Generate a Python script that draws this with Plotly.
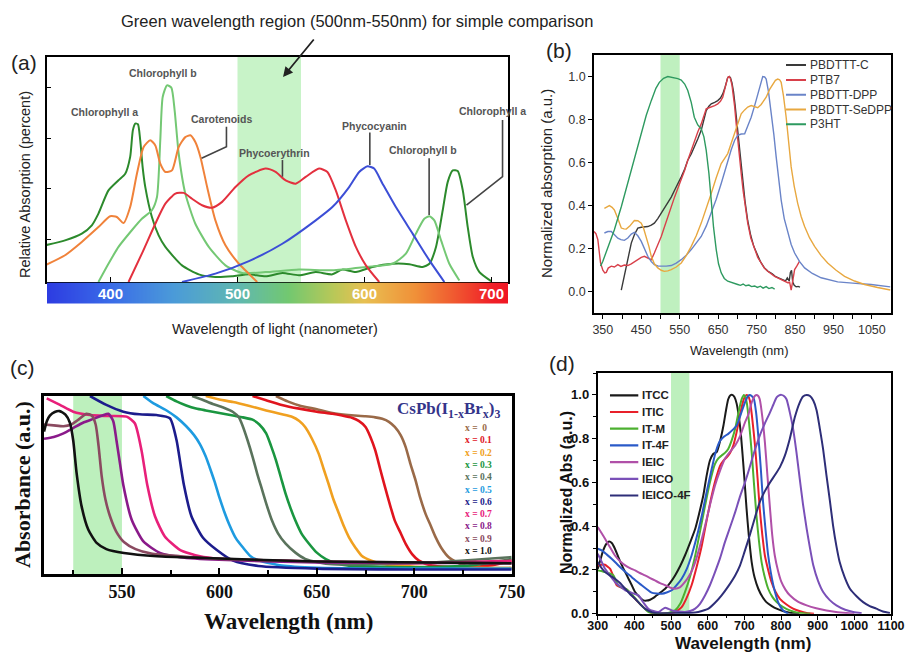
import plotly.graph_objects as go

W, H = 907, 652
SANS = "Liberation Sans, Arial, sans-serif"
SERIF = "Liberation Serif, Times New Roman, serif"

# ======================= DATA =======================
TITLE = "Green wavelength region (500nm-550nm) for simple comparison"
GREEN_BAND = (500, 550)
GREEN_BAND_C = (525, 550)

# ---- (a) pigments: (wavelength nm, relative absorption %) ----
A_CHL_A = [(348.4,16.3),(364.2,18.5),(377.4,21.5),(385.3,25.2),(390.5,30.4),(398.4,40.7),(406.3,45.2),
           (411.6,48.1),(415.5,55.6),(417.6,67.4),(419.5,70.4),(421.6,70.1),(423.4,63),(425.3,51.1),
           (427.4,42.2),(432.6,28.9),(437.9,20.7),(443.2,15.6),(456.3,7.4),(469.5,3.4),(482.6,2.2),
           (495.8,2.5),(509,3.4),(522.1,2.5),(535.3,4),(548.4,3),(561.6,4.4),(574.7,3.4),(582.6,5.5),
           (593.2,4.4),(606.3,6.7),(622.1,8.1),(635.3,7.9),(645.8,6.7),(651.1,8.1),(656.3,15.6),
           (661.6,31.9),(665.5,44.4),(669.5,49.6),(673.4,49.3),(677.4,40.7),(681.3,24.4),(685.3,11.1),
           (690.5,4.4),(699.7,0.4)]
A_CHL_B = [(390.5,0),(398.4,8.1),(406.3,15.6),(416.8,23),(424.7,28.1),(432.6,31.9),(436.6,37.8),
           (439.2,63),(441.1,82.2),(444.5,87.4),(447.9,86.4),(450.5,76.3),(453.7,57),(458.9,39.3),
           (466.8,25.9),(477.4,15.6),(490.5,7.4),(503.7,4),(522.1,4.4),(548.4,5.5),(574.7,5.2),
           (601.1,6.7),(622.1,8.1),(632.6,12.6),(640.5,21.5),(647.1,28.1),(651.1,29.2),(655,27.4),
           (660.3,18.5),(666.8,8.1),(674.7,0.7)]
A_CAROT = [(348.4,7.4),(364.2,11.9),(377.4,17.8),(390.5,24.4),(399.7,29.2),(405,28.9),(410.3,26.2),
           (415.5,33.3),(420.8,48.1),(426.1,60),(431.3,63),(435.3,60.7),(439.2,52.6),(443.2,48.9),
           (448.4,49.6),(453.7,60),(458.9,64.4),(462.9,65.2),(466.8,62.2),(470.8,55.6),(476.1,42.2),
           (482.6,27.4),(490.5,16.3),(501.1,8.1),(508.9,3.7),(515.5,0)]
A_PHYCOERY = [(414.2,0),(424.7,12.6),(435.3,25.9),(443.2,34.8),(451.1,39.3),(457.6,39.6),(464.2,37),
              (472.1,34.1),(480,33),(487.9,35.6),(498.4,42.2),(508.9,47.4),(522.1,50.4),(530,48.9),
              (537.9,45.2),(545.8,43.7),(553.7,46.7),(564.2,50.4),(570.8,48.9),(577.4,40.7),(585.3,27.4),
              (593.2,15.6),(601.1,7.4),(611.6,0)]
A_PHYCOCY = [(456.3,0),(482.6,3.7),(509,9.3),(535.3,17),(561.6,27.4),(574.7,33.3),(587.9,42.2),
             (595.8,48.9),(602.4,51.4),(607.6,50.4),(614.2,43.7),(624.7,33.3),(637.9,21.5),(651.1,9.6),
             (662.9,0)]
A_SERIES = [A_CHL_A, A_CHL_B, A_CAROT, A_PHYCOERY, A_PHYCOCY]
A_COLORS = ["#2c8a2c", "#74c874", "#f0823a", "#e3303e", "#3c4ed6"]
A_LABELS = ["Chlorophyll a", "Chlorophyll b", "Carotenoids", "Phycoerythrin", "Phycocyanin",
            "Chlorophyll b", "Chlorophyll a"]
A_LABEL_POS = [(395.5,75.6),(441.2,92.9),(487.6,72.4),(529.4,57.3),(608.1,69.3),(645.9,58.7),(701,76)]
A_LEADERS = [[(491.3,69),(491.3,60.1),(471.7,55)], [(535.4,54.2),(535.4,46.8)],
             [(604.2,66.4),(604.2,52)], [(650.9,55),(650.9,29.8)],
             [(708.7,72),(708.7,46.8),(680.3,34.2)]]
A_TICKS = [400, 500, 600, 700]
A_YTICKS = [19, 41.5, 64, 86.5]
SPECTRUM_NM = [340, 400, 450, 500, 540, 575, 600, 640, 670, 700, 720]
SPECTRUM_COLORS = ["#2a32e0", "#3a6ce8", "#4b9bd8", "#60b8b0", "#72c870", "#b8c858",
                   "#e8c052", "#f09038", "#f05a30", "#f02028", "#f01020"]

# ---- (b) polymers: (wavelength nm, normalized absorption) ----
B_PBDTTTC = [(398,0.008),(404,0.06),(411,0.119),(418,0.175),(424,0.226),(432,0.265),(441,0.296),(450,0.3),
             (458,0.302),(467,0.303),(476,0.31),(484,0.319),(493,0.34),(502,0.365),(510,0.385),(519,0.411),
             (528,0.44),(537,0.473),(545,0.5),(554,0.534),(563,0.57),(571,0.611),(580,0.64),(589,0.673),
             (597,0.71),(606,0.75),(613,0.8),(619,0.842),(626,0.862),(632,0.873),(641,0.88),(649,0.888),
             (656,0.9),(662,0.919),(668,0.95),(675,0.996),(679,1.0),(682,0.995),(686,0.97),(690,0.93),
             (694,0.87),(698,0.8),(703,0.7),(708,0.6),(714,0.5),(720,0.42),(727,0.33),(735,0.26),(743,0.21),
             (750,0.18),(760,0.14),(770,0.112),(780,0.095),(790,0.085),(800,0.07),(810,0.062),(818,0.057),
             (825,0.05),(830,0.065),(835,0.05),(838,0.09),(841,0.1),(844,0.045),(848,0.03),(853,0.023),
             (858,0.025),(863,0.022)]
B_PTB7 = [(327,0.28),(332,0.27),(337,0.242),(341,0.18),(344,0.134),(350,0.1),(355,0.088),(359,0.09),
          (364,0.11),(372,0.119),(380,0.115),(389,0.126),(397,0.118),(406,0.124),(415,0.122),(424,0.13),
          (432,0.14),(441,0.149),(450,0.16),(458,0.165),(467,0.158),(476,0.149),(484,0.18),(493,0.215),
          (502,0.257),(510,0.3),(519,0.35),(528,0.395),(537,0.442),(545,0.48),(554,0.519),(563,0.565),
          (571,0.611),(580,0.658),(589,0.704),(597,0.742),(606,0.78),(613,0.82),(619,0.85),(626,0.855),
          (632,0.858),(641,0.865),(649,0.873),(656,0.885),(662,0.904),(668,0.95),(675,0.996),(679,1.0),
          (682,0.99),(686,0.96),(690,0.91),(693,0.86),(697,0.78),(701,0.7),(706,0.62),(710,0.55),
          (715,0.47),(720,0.4),(727,0.319),(735,0.25),(745,0.196),(753,0.16),(762,0.134),(770,0.11),
          (779,0.095),(788,0.082),(797,0.072),(805,0.065),(814,0.057),(822,0.05),(831,0.042),(836,0.045),
          (840,0.008),(844,0.05),(849,0.103),(855,0.12),(862,0.142)]
B_DPP = [(354,0.273),(363,0.28),(372,0.28),(380,0.265),(389,0.249),(397,0.242),(406,0.239),(415,0.25),
         (424,0.268),(432,0.276),(441,0.26),(450,0.234),(458,0.2),(467,0.165),(476,0.14),(484,0.126),
         (493,0.12),(502,0.119),(515,0.119),(528,0.122),(541,0.133),(554,0.149),(567,0.17),(580,0.196),
         (593,0.225),(606,0.257),(619,0.305),(632,0.365),(645,0.43),(658,0.503),(667,0.56),(675,0.611),
         (684,0.66),(693,0.704),(701,0.727),(710,0.733),(719,0.734),(727,0.77),(736,0.811),(745,0.865),
         (753,0.919),(760,0.965),(766,1.0),(771,0.998),(775,0.988),(781,0.93),(788,0.842),(795,0.73),
         (801,0.627),(808,0.52),(814,0.426),(822,0.34),(831,0.273),(840,0.22),(849,0.18),(862,0.14),
         (875,0.111),(895,0.085),(918,0.065),(940,0.054),(961,0.046),(1000,0.04),(1048,0.034),(1098,0.023)]
B_SEDPP = [(354,0.388),(360,0.395),(367,0.4),(374,0.392),(380,0.38),(389,0.34),(398,0.296),(405,0.292),
           (411,0.291),(420,0.305),(432,0.331),(441,0.33),(450,0.319),(456,0.295),(463,0.257),(470,0.21),
           (476,0.165),(484,0.13),(493,0.111),(502,0.1),(510,0.095),(519,0.097),(528,0.103),(541,0.115),
           (554,0.134),(567,0.168),(580,0.211),(593,0.26),(606,0.319),(619,0.385),(632,0.457),(645,0.53),
           (658,0.596),(667,0.62),(675,0.642),(684,0.69),(693,0.734),(701,0.78),(710,0.827),(719,0.845),
           (727,0.858),(736,0.865),(745,0.86),(753,0.855),(762,0.87),(775,0.904),(784,0.94),(792,0.965),
           (799,0.982),(805,0.988),(810,0.985),(814,0.973),(820,0.91),(827,0.811),(833,0.7),(840,0.58),
           (848,0.49),(857,0.411),(866,0.35),(875,0.303),(888,0.25),(901,0.211),(918,0.168),(935,0.134),
           (957,0.1),(979,0.072),(1005,0.05),(1031,0.034),(1065,0.02),(1098,0.008)]
B_P3HT = [(344,0.119),(350,0.142),(365,0.215),(380,0.288),(398,0.395),(415,0.503),(432,0.62),(450,0.734),
          (463,0.82),(476,0.888),(488,0.945),(497,0.973),(508,0.992),(519,1.0),(528,0.997),(536,0.993),
          (545,0.99),(554,0.984),(563,0.965),(571,0.935),(580,0.88),(588,0.811),(597,0.775),(606,0.757),
          (613,0.72),(619,0.657),(626,0.55),(632,0.426),(638,0.3),(645,0.196),(651,0.13),(658,0.088),
          (666,0.062),(675,0.049),(688,0.04),(701,0.034),(708,0.03),(715,0.036),(722,0.028),(730,0.031),
          (737,0.024),(745,0.027),(752,0.02),(760,0.026),(767,0.017),(775,0.024),(782,0.015),(790,0.02),
          (797,0.012)]
B_SERIES = [B_PBDTTTC, B_PTB7, B_DPP, B_SEDPP, B_P3HT]
B_NAMES = ["PBDTTT-C", "PTB7", "PBDTT-DPP", "PBDTT-SeDPP", "P3HT"]
B_COLORS = ["#3a3a3a", "#d8404a", "#6a84c8", "#e8a840", "#2e9a60"]
B_XTICKS = [350, 450, 550, 650, 750, 850, 950, 1050]

# ---- (c) CsPb(I1-xBrx)3: (wavelength nm, absorbance a.u.) ----
C_X00 = [(629,1.0),(635,0.97),(641,0.947),(650,0.925),(658,0.904),(666,0.893),(675,0.886),(680,0.88),
         (683.6,0.872),(687,0.855),(690,0.826),(693,0.78),(695.6,0.713),(698,0.62),(700.7,0.525),
         (703,0.43),(705.8,0.338),(708.5,0.27),(711,0.206),(714,0.145),(717.7,0.094),(722,0.065),
         (726,0.047),(734.8,0.034),(750,0.034)]
C_X01 = [(617,1.0),(624,0.976),(632,0.95),(641,0.929),(650,0.912),(658,0.9),(663,0.89),(668,0.878),
         (671.5,0.86),(675,0.826),(677.5,0.77),(680,0.694),(682.5,0.59),(685,0.488),(687.5,0.39),
         (690,0.3),(693,0.23),(695.6,0.169),(699,0.11),(702.4,0.075),(709,0.047),(726,0.038),(740,0.05),
         (750,0.075)]
C_X02 = [(593,1.0),(600,0.98),(607,0.966),(615,0.945),(624,0.919),(631,0.9),(637.5,0.882),(641,0.86),
         (644,0.826),(647.5,0.76),(651,0.675),(653.5,0.59),(656,0.507),(658.5,0.42),(661.4,0.338),
         (664,0.265),(666.5,0.206),(670,0.145),(673,0.103),(678,0.075),(683.6,0.056),(700.7,0.041),
         (750,0.034)]
C_X03 = [(572.7,1.0),(578,0.97),(583,0.947),(588,0.93),(593,0.919),(600,0.905),(607,0.89),(612,0.88),
         (617,0.867),(620.5,0.84),(624,0.79),(626.5,0.72),(629,0.64),(631.5,0.545),(634,0.45),
         (636.5,0.37),(639,0.3),(642,0.23),(646,0.17),(650,0.12),(654.6,0.084),(660,0.06),(666.5,0.047),
         (700,0.038),(730,0.05),(750,0.084)]
C_X04 = [(586,1.0),(591,0.98),(596.6,0.955),(602,0.935),(607,0.91),(610,0.88),(612,0.83),(614.5,0.75),
         (617,0.66),(619.5,0.56),(622,0.47),(624.5,0.38),(627,0.3),(630,0.23),(634,0.17),(639,0.12),
         (644,0.085),(651,0.065),(658,0.055),(700,0.06),(750,0.095)]
C_X05 = [(561,1.0),(566,0.96),(572.7,0.92),(578,0.88),(583,0.83),(587,0.78),(590,0.73),(593,0.66),
         (595,0.6),(597.5,0.52),(600,0.43),(602.5,0.35),(605,0.28),(608.5,0.2),(612,0.15),(616,0.1),
         (620.5,0.075),(632,0.047),(650,0.035),(700,0.03),(750,0.03)]
C_X06 = [(533.6,1.0),(542,0.95),(550.7,0.912),(559,0.897),(567.7,0.893),(574.6,0.875),(578,0.753),
         (580,0.62),(581.8,0.5),(585.7,0.323),(591.7,0.202),(598.5,0.136),(607,0.075),(620,0.045),
         (650,0.03),(700,0.025),(750,0.025)]
C_X07 = [(511.4,0.987),(518.2,0.95),(525,0.912),(533.6,0.893),(542,0.888),(552.4,0.884),(556.6,0.847),
         (560,0.697),(563,0.5),(567,0.323),(572,0.211),(579.7,0.136),(590,0.099),(600,0.085),(650,0.07),
         (700,0.06),(750,0.075)]
C_X08 = [(510,0.76),(515,0.77),(520,0.79),(525,0.82),(530,0.85),(535,0.87),(540,0.89),(543,0.9),
         (545.5,0.86),(547.2,0.75),(549,0.62),(550.7,0.5),(555,0.305),(561,0.183),(569.5,0.118),
         (580,0.095),(600,0.08),(650,0.065),(750,0.06)]
C_X09 = [(510,0.84),(515,0.835),(520,0.83),(524,0.84),(528,0.87),(531.8,0.9),(534.5,0.89),(536.5,0.84),
         (538,0.72),(539.6,0.55),(541.5,0.42),(544,0.32),(547,0.24),(551,0.18),(557,0.14),(565,0.115),
         (580,0.1),(600,0.085),(650,0.07),(750,0.06)]
C_X10 = [(510,0.80),(511.5,0.86),(513,0.89),(515.5,0.91),(518,0.915),(521,0.895),(523.3,0.85),(525,0.75),
         (526.7,0.57),(529.3,0.38),(532.7,0.25),(537,0.175),(542,0.14),(551,0.118),(568,0.10),(593,0.09),
         (650,0.07),(750,0.06)]
C_SERIES = [C_X00, C_X01, C_X02, C_X03, C_X04, C_X05, C_X06, C_X07, C_X08, C_X09, C_X10]
C_LABELS = ["x =  0", "x = 0.1", "x = 0.2", "x = 0.3", "x = 0.4", "x = 0.5",
            "x = 0.6", "x = 0.7", "x = 0.8", "x = 0.9", "x = 1.0"]
C_COLORS = ["#9a6a48", "#e0141e", "#f0a020", "#1a9640", "#5a735c", "#1e9be0",
            "#1c1c8c", "#e8207a", "#8a1a8a", "#8a4a60", "#111111"]
C_XTICKS = [550, 600, 650, 700, 750]

# ---- (d) NFAs: (wavelength nm, normalized abs) ----
D_ITCC = [(300,0.205),(308,0.25),(315,0.289),(323,0.318),(331,0.33),(339,0.322),(347,0.297),(356,0.26),
          (366,0.221),(375,0.19),(384,0.16),(393,0.13),(402,0.099),(413,0.078),(425,0.061),(434,0.06),
          (443,0.064),(452,0.072),(461,0.084),(472,0.098),(484,0.114),(497,0.14),(511,0.175),(525,0.218),
          (538,0.266),(552,0.325),(566,0.388),(577,0.46),(588,0.54),(597,0.63),(606,0.7),(615,0.73),
          (625,0.74),(634,0.79),(643,0.86),(650,0.93),(656,0.98),(662,0.998),(667,1.0),(673,0.99),
          (679,0.96),(685,0.9),(690,0.83),(695,0.73),(700,0.62),(706,0.48),(712,0.36),(720,0.236),
          (728,0.165),(738,0.114),(750,0.075),(760,0.053),(775,0.035),(788,0.023),(805,0.012),(824,0.004),
          (850,0.0)]
D_ITIC = [(300,0.22),(310,0.224),(320,0.224),(327,0.215),(334,0.205),(343,0.17),(352,0.13),(363,0.12),
          (375,0.114),(388,0.095),(402,0.068),(415,0.045),(429,0.023),(440,0.01),(452,0.0),(475,0.0),
          (502,0.003),(515,0.012),(529,0.03),(542,0.07),(556,0.13),(570,0.215),(584,0.312),(597,0.425),
          (611,0.54),(622,0.615),(634,0.677),(643,0.7),(652,0.715),(661,0.735),(670,0.769),(679,0.83),
          (688,0.906),(695,0.96),(701,0.99),(706,1.0),(710,0.995),(715,0.974),(721,0.9),(729,0.769),
          (736,0.62),(742,0.48),(749,0.36),(756,0.266),(765,0.2),(774,0.145),(785,0.1),(797,0.068),
          (815,0.042),(833,0.023),(850,0.012),(870,0.003),(890,0.0)]
D_ITM = [(300,0.198),(310,0.195),(320,0.19),(331,0.185),(343,0.175),(350,0.15),(356,0.13),(367,0.118),
         (379,0.111),(395,0.085),(411,0.053),(425,0.028),(438,0.008),(455,0.0),(475,0.0),(495,0.005),
         (511,0.015),(525,0.045),(538,0.099),(552,0.17),(566,0.266),(579,0.375),(593,0.495),(606,0.6),
         (620,0.685),(629,0.71),(638,0.723),(647,0.735),(656,0.753),(665,0.79),(675,0.845),(684,0.92),
         (693,0.982),(699,1.0),(703,0.99),(707,0.96),(713,0.87),(720,0.738),(726,0.6),(733,0.449),
         (740,0.33),(747,0.236),(756,0.165),(765,0.114),(776,0.078),(788,0.053),(806,0.03),(824,0.015),
         (842,0.006),(860,0.002),(880,0.0)]
D_IT4F = [(300,0.297),(311,0.289),(325,0.27),(338,0.251),(352,0.228),(366,0.205),(379,0.186),(393,0.167),
          (406,0.148),(420,0.13),(434,0.112),(447,0.096),(461,0.092),(475,0.091),(488,0.097),(502,0.107),
          (515,0.13),(529,0.16),(543,0.205),(556,0.266),(570,0.35),(584,0.449),(597,0.555),(611,0.662),
          (622,0.74),(634,0.791),(645,0.81),(656,0.822),(668,0.84),(679,0.86),(690,0.91),(702,0.967),
          (710,0.995),(715,1.0),(720,0.995),(726,0.982),(732,0.92),(738,0.814),(745,0.66),(751,0.51),
          (758,0.38),(765,0.266),(772,0.19),(779,0.13),(786,0.085),(792,0.053),(799,0.03),(806,0.015),
          (813,0.006),(820,0.0)]
D_IEIC = [(300,0.396),(310,0.37),(320,0.342),(333,0.305),(347,0.266),(361,0.24),(375,0.221),(388,0.208),
          (402,0.198),(415,0.186),(429,0.175),(443,0.163),(456,0.152),(470,0.14),(484,0.13),(497,0.12),
          (511,0.114),(524,0.12),(538,0.145),(552,0.18),(566,0.236),(579,0.31),(593,0.403),(606,0.495),
          (620,0.586),(634,0.655),(647,0.708),(661,0.74),(675,0.769),(688,0.81),(702,0.875),(711,0.91),
          (718,0.955),(724,0.982),(729,0.996),(733,1.0),(738,0.995),(742,0.98),(749,0.9),(756,0.784),
          (763,0.63),(770,0.48),(776,0.36),(783,0.266),(792,0.195),(801,0.145),(812,0.11),(824,0.084),
          (846,0.055),(870,0.038),(896,0.025),(924,0.015),(950,0.008),(979,0.003),(1000,0.0)]
D_IEICO = [(300,0.274),(310,0.24),(320,0.205),(333,0.175),(347,0.145),(361,0.125),(375,0.107),(393,0.095),
           (411,0.084),(425,0.05),(438,0.023),(452,0.012),(466,0.008),(475,0.018),(484,0.027),(493,0.022),
           (502,0.015),(520,0.01),(538,0.008),(552,0.012),(566,0.023),(579,0.045),(593,0.084),(606,0.13),
           (620,0.19),(634,0.255),(647,0.327),(661,0.395),(675,0.464),(688,0.535),(702,0.601),(713,0.66),
           (724,0.723),(733,0.77),(742,0.814),(756,0.87),(770,0.92),(779,0.955),(788,0.989),(795,0.998),
           (801,1.0),(808,0.995),(815,0.98),(824,0.92),(833,0.845),(842,0.74),(851,0.617),(860,0.5),
           (870,0.388),(879,0.3),(888,0.221),(901,0.15),(915,0.099),(933,0.062),(951,0.038),(975,0.018),
           (997,0.008),(1020,0.002)]
D_IEICO4F = [(300,0.236),(310,0.21),(320,0.19),(333,0.175),(347,0.16),(361,0.14),(375,0.114),(388,0.09),
             (402,0.068),(415,0.045),(429,0.023),(443,0.01),(456,0.003),(480,0.002),(520,0.003),(545,0.003),
             (566,0.005),(584,0.012),(602,0.023),(620,0.05),(638,0.084),(656,0.125),(675,0.175),(688,0.22),
             (700,0.28),(715,0.36),(729,0.44),(742,0.51),(756,0.56),(770,0.6),(784,0.635),(797,0.67),
             (810,0.72),(824,0.8),(838,0.9),(851,0.965),(860,0.993),(870,1.0),(879,0.995),(888,0.974),
             (897,0.93),(906,0.845),(915,0.75),(924,0.632),(933,0.52),(942,0.403),(951,0.31),(960,0.236),
             (974,0.165),(988,0.114),(1006,0.08),(1024,0.053),(1042,0.035),(1060,0.023),(1078,0.01),
             (1097,0.003)]
D_SERIES = [D_ITCC, D_ITIC, D_ITM, D_IT4F, D_IEIC, D_IEICO, D_IEICO4F]
D_NAMES = ["ITCC", "ITIC", "IT-M", "IT-4F", "IEIC", "IEICO", "IEICO-4F"]
D_COLORS = ["#1a1a1a", "#e8202a", "#4cb030", "#2a5ac8", "#b050a8", "#7a50b8", "#2e2e78"]

# ======================= HELPERS =======================
def pxx(x):
    return x / W

def pxy(y):
    return 1 - y / H

def unzip(pairs):
    return [p[0] for p in pairs], [p[1] for p in pairs]

fig = go.Figure()
annotations = []
shapes = []

def note(**kw):
    kw.setdefault("showarrow", False)
    kw.setdefault("xanchor", "center")
    kw.setdefault("yanchor", "middle")
    annotations.append(kw)

# ======================= PANEL (a) =======================
for ser, col in zip(A_SERIES, A_COLORS):
    xs, ys = unzip(ser)
    fig.add_trace(go.Scatter(x=xs, y=ys, mode="lines", xaxis="x", yaxis="y",
                             line=dict(color=col, width=2, shape="spline", smoothing=0.6),
                             hoverinfo="skip"))
zmin, zmax = SPECTRUM_NM[0], SPECTRUM_NM[-1]
cscale = [[(v - zmin) / (zmax - zmin), c] for v, c in zip(SPECTRUM_NM, SPECTRUM_COLORS)]
fig.add_trace(go.Heatmap(x=SPECTRUM_NM, y=[-0.5, 0.5], z=[SPECTRUM_NM, SPECTRUM_NM],
                         zmin=zmin, zmax=zmax, colorscale=cscale, zsmooth="best",
                         showscale=False, hoverinfo="skip", xaxis="x2", yaxis="y2"))
for t in A_TICKS:
    note(x=t, y=0, xref="x2", yref="y2", text=str(t),
         font=dict(family=SANS, size=15, color="white", weight="bold"))
for lab, (lx, ly) in zip(A_LABELS, A_LABEL_POS):
    note(x=lx, y=ly, xref="x", yref="y", text=lab,
         font=dict(family=SANS, size=10.5, color="#555555", weight="bold"))
for pts in A_LEADERS:
    path = "M " + " L ".join(f"{a},{b}" for a, b in pts)
    shapes.append(dict(type="path", path=path, xref="x", yref="y",
                       line=dict(color="#444444", width=1.6)))
shapes.append(dict(type="rect", xref="x", yref="y domain", x0=GREEN_BAND[0], x1=GREEN_BAND[1],
                   y0=0, y1=1, fillcolor="#c8f3c8", line=dict(width=0), layer="below"))

# ======================= PANEL (b) =======================
for ser, col in zip(B_SERIES, B_COLORS):
    xs, ys = unzip(ser)
    fig.add_trace(go.Scatter(x=xs, y=ys, mode="lines", xaxis="x3", yaxis="y3",
                             line=dict(color=col, width=1.4), hoverinfo="skip"))
shapes.append(dict(type="rect", xref="x3", yref="y3 domain", x0=GREEN_BAND[0], x1=GREEN_BAND[1],
                   y0=0, y1=1, fillcolor="#bff0bf", line=dict(width=0), layer="below"))
B_LEG_Y0, B_LEG_DY = 1.053, 0.0688
for i, (nm, col) in enumerate(zip(B_NAMES, B_COLORS)):
    yy = B_LEG_Y0 - i * B_LEG_DY
    shapes.append(dict(type="line", xref="x3", yref="y3", x0=826.6, x1=878.6, y0=yy, y1=yy,
                       line=dict(color=col, width=2)))
    note(x=883.9, y=yy, xref="x3", yref="y3", text=nm, xanchor="left",
         font=dict(family=SANS, size=12, color="#333333"))

# ======================= PANEL (c) =======================
for ser, col in zip(C_SERIES, C_COLORS):
    xs, ys = unzip(ser)
    fig.add_trace(go.Scatter(x=xs, y=ys, mode="lines", xaxis="x4", yaxis="y4",
                             line=dict(color=col, width=2.6, shape="spline", smoothing=0.6),
                             hoverinfo="skip"))
shapes.append(dict(type="rect", xref="x4", yref="y4 domain", x0=GREEN_BAND_C[0], x1=GREEN_BAND_C[1],
                   y0=0, y1=1, fillcolor="#bdf0bd", line=dict(width=0), layer="below"))
note(x=pxx(448), y=pxy(410), xref="paper", yref="paper",
     text="CsPb(I<sub>1-x</sub>Br<sub>x</sub>)<sub>3</sub>",
     font=dict(family=SERIF, size=17, color="#34348a", weight="bold"))
for i, (lab, col) in enumerate(zip(C_LABELS, C_COLORS)):
    note(x=pxx(463), y=pxy(428 + i * 12.3), xref="paper", yref="paper", text=lab, xanchor="left",
         font=dict(family=SERIF, size=9.5, color=col, weight="bold"))

# ======================= PANEL (d) =======================
for ser, col in zip(D_SERIES, D_COLORS):
    xs, ys = unzip(ser)
    fig.add_trace(go.Scatter(x=xs, y=ys, mode="lines", xaxis="x5", yaxis="y5",
                             line=dict(color=col, width=2, shape="spline", smoothing=0.6),
                             hoverinfo="skip"))
shapes.append(dict(type="rect", xref="x5", yref="y5 domain", x0=GREEN_BAND[0], x1=GREEN_BAND[1],
                   y0=0, y1=1, fillcolor="#bdf0bd", line=dict(width=0), layer="below"))
D_LEG_Y0, D_LEG_DY = 0.998, 0.0763
for i, (nm, col) in enumerate(zip(D_NAMES, D_COLORS)):
    yy = D_LEG_Y0 - i * D_LEG_DY
    shapes.append(dict(type="line", xref="x5", yref="y5", x0=333.5, x1=410.7, y0=yy, y1=yy,
                       line=dict(color=col, width=2.2)))
    note(x=415.4, y=yy, xref="x5", yref="y5", text=nm, xanchor="left",
         font=dict(family=SANS, size=11.5, color="#222222", weight="bold"))

# ======================= TEXTS =======================
def txt(x, y, s, size, family=SANS, color="#222222", weight="normal", angle=0):
    note(x=pxx(x), y=pxy(y), xref="paper", yref="paper", text=s, textangle=angle,
         font=dict(family=family, size=size, color=color, weight=weight))

txt(357, 21, TITLE, 16.5)
annotations.append(dict(x=pxx(283), y=pxy(77), xref="paper", yref="paper", text="",
                        showarrow=True, ax=32, ay=-39, arrowhead=2, arrowsize=1.1,
                        arrowwidth=1.8, arrowcolor="#222222"))
txt(23.5, 62, "(a)", 21)
txt(559, 51, "(b)", 21)
txt(22.5, 367, "(c)", 21)
txt(561.5, 363, "(d)", 21)
txt(274.5, 329, "Wavelength of light (nanometer)", 14.5)
txt(25, 185, "Relative Absorption (percent)", 14.5, angle=-90)
txt(739, 350, "Wavelength (nm)", 13)
txt(547, 184, "Normalized absorption (a.u.)", 15, angle=-90)
txt(288, 621, "Wavelength (nm)", 23, family=SERIF, color="#111111", weight="bold")
txt(22, 485, "Absorbance (a.u.)", 22, family=SERIF, color="#111111", weight="bold", angle=-90)
txt(743, 643, "Wavelength (nm)", 17, color="#111111", weight="bold")
txt(566, 493, "Normalized Abs (a.u.)", 16, color="#111111", weight="bold", angle=-90)

# ======================= AXES =======================
def frame(width):
    return dict(showline=True, linecolor="black", linewidth=width, mirror=True,
                showgrid=False, zeroline=False, automargin=False)

layout = dict(
    width=W, height=H, autosize=False,
    margin=dict(l=0, r=0, t=0, b=0, pad=0, autoexpand=False),
    paper_bgcolor="white", plot_bgcolor="white", showlegend=False,
    font=dict(family=SANS, color="#222222"),
    annotations=annotations, shapes=shapes,
    xaxis=dict(domain=[pxx(47), pxx(508)], range=[350, 713], anchor="y",
               tickvals=A_TICKS, ticks="inside", ticklen=5, tickcolor="black",
               showticklabels=False, **frame(2)),
    yaxis=dict(domain=[pxy(282), pxy(57)], range=[0, 100], anchor="x",
               tickvals=A_YTICKS, ticks="inside", ticklen=4, tickcolor="black",
               showticklabels=False, **frame(2)),
    xaxis2=dict(domain=[pxx(47), pxx(508)], range=[350, 713], anchor="y2", visible=False),
    yaxis2=dict(domain=[pxy(304), pxy(282.5)], range=[-0.5, 0.5], anchor="x2", visible=False),
    xaxis3=dict(domain=[pxx(594), pxx(890.7)], range=[327, 1099], anchor="y3",
                tickvals=B_XTICKS, ticks="outside", ticklen=4, tickcolor="black",
                minor=dict(tickvals=[400, 500, 600, 700, 800, 900, 1000], ticks="outside",
                           ticklen=4, tickcolor="black"),
                tickfont=dict(family=SANS, size=12.5, color="#333333"), **frame(1.6)),
    yaxis3=dict(domain=[pxy(313.3), pxy(55)], range=[-0.1, 1.1], anchor="x3",
                tick0=0, dtick=0.2, tickformat=".1f", ticks="outside", ticklen=4,
                tickcolor="black", tickfont=dict(family=SANS, size=12.5, color="#333333"),
                **frame(1.6)),
    xaxis4=dict(domain=[pxx(44), pxx(511.7)], range=[510, 750], anchor="y4",
                tickvals=C_XTICKS, ticks="inside", ticklen=6, tickcolor="black", tickwidth=2,
                minor=dict(tickvals=[525, 575, 625, 675, 725], ticks="inside", ticklen=4,
                           tickcolor="black", tickwidth=1.5),
                tickfont=dict(family=SERIF, size=18, color="#111111", weight="bold"),
                **frame(2.6)),
    yaxis4=dict(domain=[pxy(574), pxy(396)], range=[0, 1], anchor="x4",
                showticklabels=False, ticks="", **frame(2.6)),
    xaxis5=dict(domain=[pxx(597.7), pxx(891)], range=[300, 1100], anchor="y5",
                tick0=300, dtick=100, ticks="outside", ticklen=4, tickcolor="black",
                ticklabelstandoff=-5,
                minor=dict(dtick=50, ticks="outside", ticklen=2.5, tickcolor="black"),
                tickfont=dict(family=SANS, size=12.5, color="#111111", weight="bold"),
                **frame(1.8)),
    yaxis5=dict(domain=[pxy(613.7), pxy(373)], range=[0, 1.1], anchor="x5",
                tickvals=[0, 0.2, 0.4, 0.6, 0.8, 1.0], tickformat=".1f", ticks="outside",
                ticklen=4, tickcolor="black",
                minor=dict(dtick=0.1, ticks="outside", ticklen=2.5, tickcolor="black"),
                tickfont=dict(family=SANS, size=13, color="#111111", weight="bold"),
                **frame(1.8)),
)
fig.update_layout(**layout)
fig.write_html("out.html", config={"responsive": False, "displayModeBar": False},
               post_script="document.body.style.margin='0px';"
                           "document.body.style.padding='0px';"
                           "document.body.style.overflow='hidden';")
